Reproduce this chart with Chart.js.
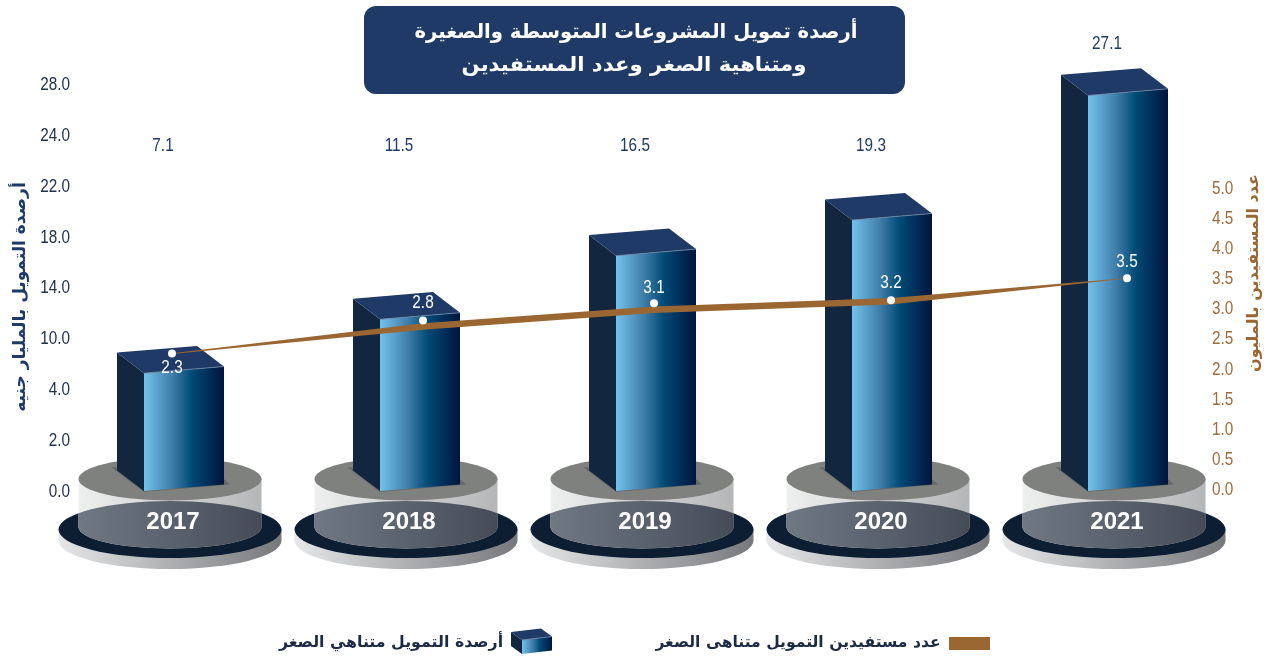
<!DOCTYPE html>
<html lang="ar">
<head>
<meta charset="utf-8">
<title>أرصدة تمويل المشروعات</title>
<script src="https://cdn.jsdelivr.net/npm/chart.js@4"></script>
<style>
  html, body { margin: 0; padding: 0; background: #fff; }
  canvas { display: block; }
</style>
</head>
<body>
<canvas id="fundingChart" width="1269" height="657"></canvas>
<script>
const years = ["2017", "2018", "2019", "2020", "2021"];
// what is printed above each bar
const fundingLabels = [7.1, 11.5, 16.5, 19.3, 27.1];
// bar tops read against the left axis (the first bar is drawn lower than its label says)
const fundingHeights = [5.9, 11.5, 16.5, 19.3, 27.1];
const beneficiaries = [2.3, 2.8, 3.1, 3.2, 3.5];
// the left axis is not even: these sit at equal distances
const leftTicks = [0, 2, 4, 10, 14, 18, 22, 24, 28];
const rightTicks = [0, 0.5, 1, 1.5, 2, 2.5, 3, 3.5, 4, 4.5, 5];

const titleLines = ["أرصدة تمويل المشروعات المتوسطة والصغيرة", "ومتناهية الصغر وعدد المستفيدين"];
const leftTitle = "أرصدة التمويل بالمليار جنيه";
const rightTitle = "عدد المستفيدين بالمليون";
const legendBars = "أرصدة التمويل متناهي الصغر";
const legendLine = "عدد مستفيدين التمويل متناهى الصغر";

const NAVY = "#1f3a66";
const BROWN = "#9a6732";
const NUMBERS = "18px 'Liberation Sans', sans-serif";
const ARABIC = "'DejaVu Sans', sans-serif";
const SQUEEZE = 0.85; // numbers are condensed in the picture

// hand tweaks for the brush-like line
const pointNudgeX = [-12, 3, -2, -1, -1];
const pointNudgeY = [3, 0, 1, 4, 0];
const bandDrop = [0, 6, 6.5, 1, 0];
const bandWidth = [0.8, 6.5, 6.5, 6.5, 0.6];
const valueLabelOffset = [13, -18, -16, -18, -17];

// Linear scale where every tick gets the same distance
class SteppedScale extends Chart.LinearScale {
  static id = "stepped";
  static defaults = Chart.LinearScale.defaults;

  buildTicks() {
    return leftTicks.map((v) => ({ value: v }));
  }
  determineDataLimits() {
    this.min = leftTicks[0];
    this.max = leftTicks[leftTicks.length - 1];
  }
  getPixelForValue(value) {
    let i = 0;
    while (i < leftTicks.length - 2 && value > leftTicks[i + 1]) i++;
    const part = (value - leftTicks[i]) / (leftTicks[i + 1] - leftTicks[i]);
    return this.getPixelForDecimal((i + part) / (leftTicks.length - 1));
  }
}
Chart.register(SteppedScale);

function text(ctx, str, x, y, font, color, opts = {}) {
  ctx.save();
  ctx.translate(x, y);
  if (opts.rotation) ctx.rotate(opts.rotation);
  ctx.scale(opts.squeeze || 1, 1);
  ctx.font = font;
  ctx.fillStyle = color;
  ctx.textAlign = opts.align || "center";
  ctx.textBaseline = "middle";
  ctx.fillText(str, 0, 0);
  ctx.restore();
}

function poly(ctx, pts, fill) {
  ctx.beginPath();
  pts.forEach((p, i) => (i ? ctx.lineTo(p[0], p[1]) : ctx.moveTo(p[0], p[1])));
  ctx.closePath();
  ctx.fillStyle = fill;
  ctx.fill();
}

function drawBox(ctx, left, top, width, bottom, dx, dy, slope) {
  const right = left + width;
  const g = ctx.createLinearGradient(left, 0, right, 0);
  g.addColorStop(0, "#73c2ec");
  g.addColorStop(0.35, "#3f7ea9");
  g.addColorStop(0.6, "#004a75");
  g.addColorStop(1, "#00143e");
  // side
  poly(ctx, [[left, top], [left + dx, top + dy], [left + dx, bottom + dy], [left, bottom]], "#12263f");
  // front
  poly(ctx, [[left, top], [right, top + slope], [right, bottom + slope], [left, bottom]], g);
  // top
  poly(ctx, [[left, top], [right, top + slope], [right + dx, top + slope + dy], [left + dx, top + dy]], "#1f3a66");
  ctx.beginPath();
  ctx.moveTo(left, top);
  ctx.lineTo(right, top + slope);
  ctx.strokeStyle = "#6d87a8";
  ctx.lineWidth = 0.8;
  ctx.stroke();
}

function drawStand(ctx, cx) {
  const discY = 529.5, discRx = 111.5, discRy = 28.5, lip = 11;
  const topY = 479, bottomY = 527, rx = 91.5, ry = 21.5;

  // grey lip under the dark disc
  let g = ctx.createLinearGradient(cx - discRx, 0, cx + discRx, 0);
  g.addColorStop(0, "#e6e7e8");
  g.addColorStop(1, "#77787b");
  ctx.beginPath();
  ctx.ellipse(cx, discY + lip, discRx, discRy, 0, 0, Math.PI);
  ctx.lineTo(cx - discRx, discY);
  ctx.lineTo(cx + discRx, discY);
  ctx.closePath();
  ctx.fillStyle = g;
  ctx.fill();

  ctx.beginPath();
  ctx.ellipse(cx, discY, discRx, discRy, 0, 0, Math.PI * 2);
  ctx.fillStyle = "#0d1e33";
  ctx.fill();

  // pale cylinder, darker where it stands in the disc
  const cylinder = () => {
    ctx.beginPath();
    ctx.ellipse(cx, bottomY, rx, ry, 0, 0, Math.PI);
    ctx.lineTo(cx - rx, topY);
    ctx.lineTo(cx + rx, topY);
    ctx.closePath();
  };
  g = ctx.createLinearGradient(cx - rx, 0, cx + rx, 0);
  g.addColorStop(0, "#eeefef");
  g.addColorStop(1, "#b4b6b8");
  cylinder();
  ctx.fillStyle = g;
  ctx.fill();

  ctx.save();
  ctx.beginPath();
  ctx.ellipse(cx, discY, discRx, discRy, 0, 0, Math.PI * 2);
  ctx.clip();
  g = ctx.createLinearGradient(cx - rx, 0, cx + rx, 0);
  g.addColorStop(0, "#6f7883");
  g.addColorStop(1, "#454c57");
  cylinder();
  ctx.fillStyle = g;
  ctx.fill();
  ctx.restore();

  ctx.beginPath();
  ctx.ellipse(cx, topY, rx, ry, 0, 0, Math.PI * 2);
  ctx.fillStyle = "#7f817f";
  ctx.fill();
}

const pictureChart = {
  id: "pictureChart",
  beforeDraw(chart) {
    const ctx = chart.ctx;
    ctx.save();
    ctx.fillStyle = "#fff";
    ctx.fillRect(0, 0, chart.width, chart.height);
    chart.scales.x.ticks.forEach((t, i) => {
      drawStand(ctx, chart.scales.x.getPixelForTick(i) - 14);
    });
    ctx.restore();
  },
  afterDatasetsUpdate(chart) {
    chart.getDatasetMeta(1).data.forEach((p, i) => {
      p.x += pointNudgeX[i];
      p.y += pointNudgeY[i];
    });
  },
  beforeDatasetDraw(chart, args) {
    const ctx = chart.ctx;
    if (args.index === 0) {
      // 3D bars from the library's bar geometry
      args.meta.data.forEach((bar) => {
        const left = bar.x - bar.width / 2;
        const right = left + bar.width;
        ctx.save();
        poly(ctx, [[left - 33, bar.base - 24], [left, bar.base + 1], [right + 6, bar.base - 6.5], [right, bar.base - 12]], "#686a68");
        drawBox(ctx, left, bar.y, bar.width, bar.base, -27, -20.6, -6.6);
        ctx.restore();
      });
      return false;
    }
    // tapered band under the points
    const pts = args.meta.data;
    ctx.beginPath();
    pts.forEach((p, i) => {
      const y = p.y + bandDrop[i] - bandWidth[i] / 2;
      if (i) ctx.lineTo(p.x, y);
      else ctx.moveTo(p.x, y);
    });
    for (let i = pts.length - 1; i >= 0; i--) {
      ctx.lineTo(pts[i].x, pts[i].y + bandDrop[i] + bandWidth[i] / 2);
    }
    ctx.closePath();
    ctx.fillStyle = BROWN;
    ctx.fill();
  },
  afterDraw(chart) {
    const ctx = chart.ctx;
    const area = chart.chartArea;

    // tick labels, condensed so drawn here
    const left = chart.scales.y;
    left.ticks.forEach((t, i) => {
      text(ctx, t.label, 70, left.getPixelForTick(i) + 1, NUMBERS, "#22314f", { align: "right", squeeze: SQUEEZE });
    });
    const right = chart.scales.y2;
    right.ticks.forEach((t, i) => {
      text(ctx, t.label, 1212, right.getPixelForTick(i) + 1, NUMBERS, "#a06c3a", { align: "left", squeeze: SQUEEZE });
    });

    // value labels
    chart.getDatasetMeta(0).data.forEach((bar, i) => {
      const y = Math.min(area.top + 61, bar.y - 52);
      text(ctx, fundingLabels[i].toFixed(1), bar.x - 21, y + 1, NUMBERS, NAVY, { squeeze: SQUEEZE });
    });
    chart.getDatasetMeta(1).data.forEach((p, i) => {
      text(ctx, beneficiaries[i].toFixed(1), p.x, p.y + valueLabelOffset[i] + 1, NUMBERS, "#fff", { squeeze: SQUEEZE });
    });

    // title box
    ctx.beginPath();
    ctx.roundRect(364, 6, 541, 88, 12);
    ctx.fillStyle = "#1f3a66";
    ctx.fill();
    text(ctx, titleLines[0], 636, 33, "bold 20px " + ARABIC, "#fff", { squeeze: 0.98 });
    text(ctx, titleLines[1], 634, 66, "bold 20px " + ARABIC, "#fff", { squeeze: 1.06 });

    // axis titles, both turned the same way
    text(ctx, leftTitle, 21, 297, "bold 17px " + ARABIC, NAVY, { rotation: -Math.PI / 2 });
    text(ctx, rightTitle, 1254, 273, "bold 16px " + ARABIC, BROWN, { rotation: -Math.PI / 2 });

    // legend
    ctx.fillStyle = BROWN;
    ctx.fillRect(949, 637, 41, 13);
    text(ctx, legendLine, 798, 643, "bold 15.6px " + ARABIC, "#1d2a44");
    drawBox(ctx, 522, 640, 30, 654, -11, -8, -3.5);
    text(ctx, legendBars, 391, 643, "bold 15.8px " + ARABIC, "#1d2a44");
  },
};

new Chart(document.getElementById("fundingChart"), {
  data: {
    labels: years,
    datasets: [
      {
        type: "bar",
        label: legendBars,
        data: fundingHeights,
        yAxisID: "y",
        order: 2,
        categoryPercentage: 1,
        barPercentage: 80 / 236,
        backgroundColor: NAVY,
      },
      {
        type: "line",
        label: legendLine,
        data: beneficiaries,
        yAxisID: "y2",
        order: 1,
        showLine: false,
        borderColor: BROWN,
        pointRadius: 4,
        pointBorderWidth: 0,
        pointBackgroundColor: "#fff",
      },
    ],
  },
  options: {
    responsive: false,
    animation: false,
    events: [],
    layout: { autoPadding: false, padding: { top: 84 } },
    plugins: { legend: { display: false }, title: { display: false }, tooltip: { enabled: false } },
    scales: {
      x: {
        grid: { display: false },
        border: { display: false },
        afterFit: (scale) => { scale.height = 166; },
        ticks: {
          padding: 9,
          labelOffset: -11,
          color: "#fff",
          maxRotation: 0,
          font: { family: "'Liberation Sans', sans-serif", size: 24, weight: "bold" },
        },
      },
      y: {
        type: "stepped",
        position: "left",
        grid: { display: false },
        border: { display: false },
        afterFit: (scale) => { scale.width = 66; },
        ticks: {
          display: false,
          autoSkip: false,
          callback: (v) => Number(v).toFixed(1),
        },
      },
      y2: {
        type: "linear",
        position: "right",
        // 0 lands two pixels above the left axis zero, as in the picture
        min: -0.033,
        max: 6.727,
        grid: { display: false },
        border: { display: false },
        afterBuildTicks: (scale) => { scale.ticks = rightTicks.map((v) => ({ value: v })); },
        afterFit: (scale) => { scale.width = 23; },
        ticks: {
          display: false,
          autoSkip: false,
          callback: (v) => Number(v).toFixed(1),
        },
      },
    },
  },
  plugins: [pictureChart],
});
</script>
</body>
</html>
